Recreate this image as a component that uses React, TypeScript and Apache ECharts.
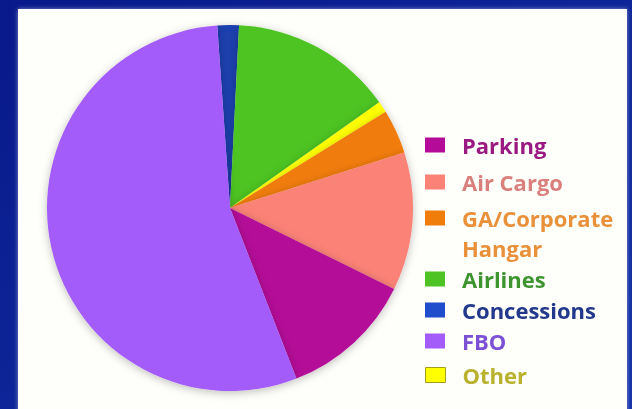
import React, { useEffect, useRef } from "react";
import * as echarts from "echarts";

// Revenue share by source, listed clockwise from the top of the pie
const categories = [
  "Concessions",
  "Airlines",
  "Other",
  "GA/Corporate Hangar",
  "Air Cargo",
  "Parking",
  "FBO",
];
const shares = [1.9, 14.4, 1.0, 3.9, 12.2, 11.8, 54.8];

const sliceColors: Record<string, string> = {
  Concessions: "#1B3FAE",
  Airlines: "#4DC424",
  Other: "#FFFF00",
  "GA/Corporate Hangar": "#F07C0A",
  "Air Cargo": "#FA8276",
  Parking: "#B40B98",
  FBO: "#A35BFA",
};

// Legend order and label colours
const legendOrder = [
  "Parking",
  "Air Cargo",
  "GA/Corporate Hangar",
  "Airlines",
  "Concessions",
  "FBO",
  "Other",
];
const legendTextColors: Record<string, string> = {
  Parking: "#9A1A82",
  "Air Cargo": "#D9807C",
  "GA/Corporate Hangar": "#E8903A",
  Airlines: "#3E9530",
  Concessions: "#22388C",
  FBO: "#7C50D4",
  Other: "#B8B22E",
};

// vertical centre of each legend row (layout)
const legendRowCenters = [145, 182, 218, 279, 310, 341, 375];
const WRAP_LINE_GAP = 30;

const W = 632;
const H = 409;
const LEGEND_FONT = {
  fontFamily: "Open Sans",
  fontWeight: "bold" as const,
  fontSize: 22,
};

export default function App() {
  const ref = useRef<HTMLDivElement>(null);

  useEffect(() => {
    if (!ref.current) return;
    const chart = echarts.init(ref.current, undefined, { renderer: "svg" });

    const lineH = 24;
    const gaIndex = legendOrder.indexOf("GA/Corporate Hangar");

    const legends = legendOrder.map((name, i) => ({
      left: 425,
      top: legendRowCenters[i] - lineH / 2,
      padding: 0,
      itemGap: 0,
      itemWidth: 20,
      itemHeight: 15,
      icon: "rect",
      selectedMode: false,
      data: [
        {
          name,
          itemStyle:
            name === "Other"
              ? { borderColor: "#A59E1C", borderWidth: 1 }
              : name === "Concessions"
              ? { color: "#1F4DCC" }
              : undefined,
        },
      ],
      // the long entry wraps: its second word is set on the next line below
      formatter: (n: string) =>
        n === "GA/Corporate Hangar" ? "GA/Corporate" : n,
      textStyle: {
        ...LEGEND_FONT,
        color: legendTextColors[name],
        lineHeight: lineH,
        padding: [0, 0, 0, 12],
      },
    }));

    chart.setOption({
      animation: false,
      graphic: [
        {
          type: "rect",
          z: -10,
          silent: true,
          shape: { x: 0, y: 0, width: W, height: H },
          style: {
            fill: new echarts.graphic.LinearGradient(0, 0, 1, 1, [
              { offset: 0, color: "#08198A" },
              { offset: 1, color: "#1231A6" },
            ]),
          },
        },
        {
          type: "rect",
          z: -9,
          silent: true,
          shape: { x: 18, y: 9, width: 609, height: 410 },
          style: {
            fill: "#FEFEFA",
            shadowBlur: 4,
            shadowColor: "rgba(255,255,255,0.5)",
          },
        },
        {
          type: "text",
          silent: true,
          x: 462,
          y: legendRowCenters[gaIndex] + WRAP_LINE_GAP,
          style: {
            text: "Hangar",
            ...LEGEND_FONT,
            fill: legendTextColors["GA/Corporate Hangar"],
            verticalAlign: "middle",
            align: "left",
          },
        },
      ],
      legend: legends,
      series: [
        {
          type: "pie",
          center: [230, 208],
          radius: 183,
          startAngle: 94,
          clockwise: true,
          label: { show: false },
          labelLine: { show: false },
          emphasis: { disabled: true },
          itemStyle: {
            borderWidth: 0,
            shadowBlur: 8,
            shadowColor: "rgba(0,0,0,0.25)",
            shadowOffsetY: 2,
          },
          data: categories.map((name, i) => ({
            name,
            value: shares[i],
            itemStyle: { color: sliceColors[name] },
          })),
        },
      ],
    });

    return () => chart.dispose();
  }, []);

  return (
    <div
      ref={ref}
      style={{ position: "fixed", left: 0, top: 0, width: W, height: H }}
    />
  );
}
